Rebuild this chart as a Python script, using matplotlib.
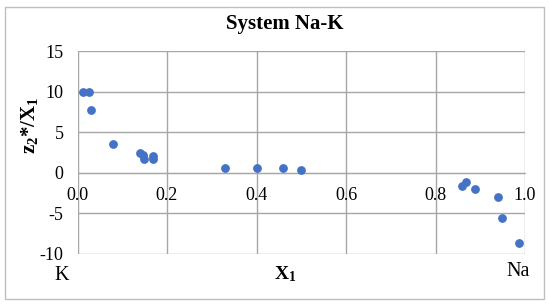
import matplotlib.pyplot as plt
from matplotlib.patches import Rectangle

# Data
x1 = [0.012, 0.025, 0.030, 0.080, 0.140, 0.147, 0.149, 0.169, 0.169,
      0.330, 0.400, 0.459, 0.499, 0.859, 0.869, 0.889, 0.940, 0.949, 0.986]
z2_x1 = [10.0, 10.0, 7.7, 3.55, 2.45, 2.2, 1.7, 2.1, 1.75,
         0.6, 0.6, 0.6, 0.3, -1.6, -1.1, -2.0, -3.0, -5.6, -8.6]
xticks = [0.0, 0.2, 0.4, 0.6, 0.8, 1.0]
yticks = [-10, -5, 0, 5, 10, 15]

plt.rcParams["font.family"] = ["Liberation Serif", "DejaVu Serif"]
plt.rcParams["mathtext.fontset"] = "custom"
plt.rcParams["mathtext.rm"] = "Liberation Serif"
plt.rcParams["mathtext.it"] = "Liberation Serif:italic"
plt.rcParams["mathtext.bf"] = "Liberation Serif:bold"
plt.rcParams["axes.unicode_minus"] = False

fig = plt.figure(figsize=(5.5, 3.06), dpi=100)
W, H = 550, 306
ax = fig.add_axes([77.5 / W, 1 - 254 / H, (525 - 77.5) / W, (254 - 51) / H])

ax.scatter(x1, z2_x1, s=28, color="#4472C4", zorder=3, clip_on=False)

ax.set_xlim(0, 1)
ax.set_ylim(-10, 15)
ax.set_xticks(xticks)
ax.set_xticklabels([f"{v:.1f}" for v in xticks])
ax.set_yticks(yticks)
ax.grid(True, color="#a6a6a6", linewidth=1)
ax.set_axisbelow(True)

for side in ["top", "right", "left"]:
    ax.spines[side].set_visible(False)
ax.spines["bottom"].set_position(("data", 0))
ax.spines["bottom"].set_color("#a6a6a6")
ax.tick_params(axis="both", length=0, labelsize=13)
ax.tick_params(axis="x", pad=10.5)
ax.tick_params(axis="y", pad=10)

fig.text(285 / W, 1 - 24 / H, "System Na-K", ha="center", va="center",
         fontsize=15, fontweight="bold")
fig.text(30 / W, 1 - 125 / H, r"$\mathbf{z_2}$*/$\mathbf{X_1}$", rotation=90,
         ha="center", va="center", fontsize=15, fontweight="bold")
fig.text(285 / W, 1 - 274 / H, r"$\mathbf{X_1}$", ha="center", va="center",
         fontsize=14)
fig.text(62 / W, 1 - 276 / H, "K", ha="center", va="center", fontsize=14.5)
fig.text(518 / W, 1 - 272 / H, "Na", ha="center", va="center", fontsize=14.5)

fig.patches.append(Rectangle((5 / W, 1 - 299 / H), 539 / W, 292 / H,
                             transform=fig.transFigure, fill=False,
                             edgecolor="#bfbfbf", linewidth=1))

fig.savefig("out.png", dpi=100)
